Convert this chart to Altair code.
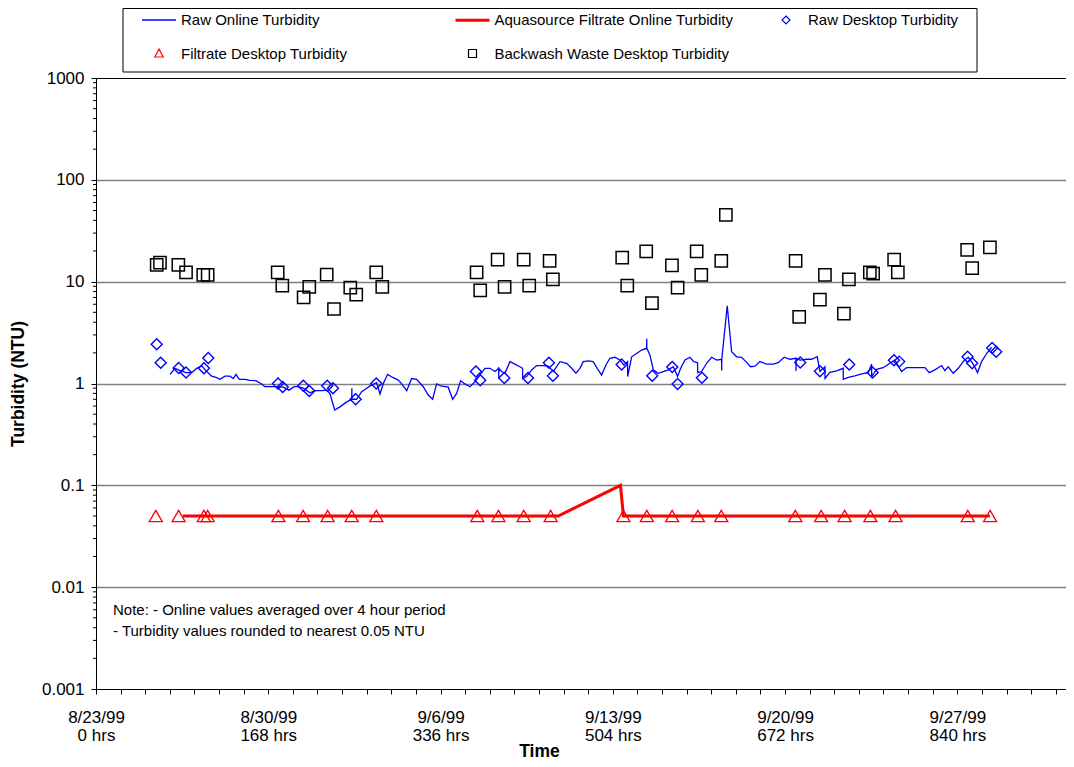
import altair as alt
import pandas as pd

# ---------------- data (hours since 8/23/99 00:00, turbidity NTU) ----------------
raw_online_hours = [72.2, 77.0, 81.9, 87.8, 93.3, 98.2, 103.1, 108.0, 112.8, 117.7, 120.9, 125.8, 130.7,
                    133.9, 136.5, 139.7, 145.3, 150.2, 156.0, 161.6, 164.8, 169.7, 176.2, 182.6, 188.2,
                    193.4, 197.3, 202.1, 208.7, 213.6, 220.1, 225.0, 228.2, 232.8, 237.9, 244.5, 249.4,
                    249.5, 249.6, 254.2, 259.1, 264.0, 268.8, 273.7, 277.0, 280.2, 284.4, 289.9, 294.8,
                    298.1, 303.0, 307.8, 312.7, 319.2, 324.0, 328.3, 332.2, 337.1, 343.5, 347.8, 351.7,
                    355.6, 359.8, 364.7, 369.6, 374.4, 379.3, 384.2, 389.1, 392.7, 392.8, 392.9, 395.6,
                    398.8, 403.7, 408.6, 413.4, 416.0, 416.1, 420.0, 424.9, 429.7, 436.2, 441.1, 446.0,
                    452.5, 459.0, 463.9, 468.1, 472.0, 475.2, 480.1, 484.9, 488.8, 493.1, 497.3, 501.2,
                    506.1, 511.0, 514.9, 518.4, 518.5, 522.4, 527.3, 532.1, 537.0, 537.1, 537.2, 540.2,
                    543.5, 548.3, 553.2, 558.1, 563.0, 567.2, 570.2, 574.4, 579.2, 583.1, 586.7, 586.8,
                    590.6, 595.5, 600.4, 605.3, 610.1, 610.2, 610.3, 615.6, 619.9, 624.8, 629.6, 633.8,
                    638.4, 642.6, 647.5, 654.0, 660.5, 665.3, 671.2, 676.7, 682.6, 682.7, 682.8, 686.5,
                    693.0, 697.9, 703.4, 706.0, 710.9, 711.0, 715.7, 722.3, 728.7, 728.8, 733.6, 740.1,
                    746.7, 753.1, 756.4, 756.5, 761.3, 767.7, 774.2, 779.1, 785.6, 790.5, 797.0, 803.5,
                    808.4, 812.6, 818.1, 824.7, 827.9, 831.1, 836.0, 840.9, 845.7, 850.6, 855.5, 859.8,
                    863.7, 868.6, 873.4]
raw_online_ntu = [1.23, 1.41, 1.34, 1.28, 1.28, 1.41, 1.49, 1.31, 1.18, 1.14, 1.10, 1.18, 1.18,
                  1.12, 1.23, 1.10, 1.10, 1.075, 1.065, 0.99, 0.93, 0.93, 0.93, 0.92, 0.86,
                  0.93, 0.93, 0.90, 0.81, 0.85, 0.85, 0.86, 0.79, 0.55, 0.59, 0.66, 0.70,
                  0.90, 0.70, 0.70, 0.83, 0.90, 0.97, 1.02, 0.79, 1.00, 1.23, 1.14, 1.08,
                  0.99, 0.85, 1.12, 1.10, 0.93, 0.77, 0.70, 0.99, 0.94, 0.92, 0.70, 0.80,
                  1.065, 0.99, 0.93, 1.04, 1.21, 1.41, 1.41, 1.31, 1.41, 1.12, 1.41, 1.31,
                  1.26, 1.64, 1.55, 1.46, 1.41, 1.12, 1.17, 1.36, 1.50, 1.50, 1.48, 1.31,
                  1.64, 1.58, 1.41, 1.26, 1.41, 1.64, 1.67, 1.64, 1.41, 1.21, 1.52, 1.77,
                  1.81, 1.70, 1.52, 1.64, 1.17, 1.83, 1.97, 2.13, 2.22, 2.75, 2.22, 1.91,
                  1.36, 1.26, 1.31, 1.36, 1.46, 1.17, 1.41, 1.70, 1.81, 1.64, 1.60, 1.28,
                  1.31, 1.58, 1.81, 1.70, 1.73, 1.34, 1.73, 5.8, 2.05, 1.83, 1.81, 1.64,
                  1.46, 1.48, 1.64, 1.55, 1.55, 1.60, 1.81, 1.73, 1.77, 1.33, 1.77, 1.70,
                  1.73, 1.73, 1.83, 1.31, 1.46, 1.12, 1.29, 1.33, 1.41, 1.10, 1.15, 1.19,
                  1.24, 1.28, 1.55, 1.17, 1.38, 1.43, 1.58, 1.70, 1.31, 1.43, 1.43, 1.43,
                  1.43, 1.28, 1.36, 1.50, 1.34, 1.46, 1.26, 1.41, 1.64, 1.81, 1.55, 1.28,
                  1.64, 1.97, 2.27]

filtrate_online_hours = [84.6, 450.8, 511.5, 514.4, 871.8]
filtrate_online_ntu = [0.05, 0.05, 0.1, 0.05, 0.05]

raw_desktop_hours = [59.2, 63.1, 80.6, 87.8, 105.3, 109.5, 177.5, 182.1, 202.2, 208.0, 225.5, 231.1,
                     253.2, 273.3, 370.5, 374.7, 398.2, 421.3, 441.7, 445.6, 512.6, 542.5, 562.0,
                     567.2, 590.9, 686.8, 706.0, 734.6, 757.4, 778.2, 783.3, 850.0, 854.5, 874.0, 877.9]
raw_desktop_ntu = [2.43, 1.60, 1.42, 1.28, 1.41, 1.78, 1.00, 0.924, 0.951, 0.844, 0.951, 0.897,
                   0.70, 1.00, 1.31, 1.075, 1.13, 1.13, 1.60, 1.19, 1.54, 1.19, 1.45,
                   0.99, 1.14, 1.61, 1.32, 1.54, 1.28, 1.69, 1.64, 1.83, 1.58, 2.23, 2.05]

filtrate_desktop_hours = [58.3, 80.6, 105.2, 108.9, 177.9, 202.0, 225.9, 249.4, 273.4, 371.9, 392.5,
                          417.1, 443.4, 514.4, 537.2, 561.9, 587.0, 609.8, 682.0, 707.2, 730.1, 755.2,
                          779.8, 850.2, 872.0]
filtrate_desktop_ntu = [0.05, 0.05, 0.05, 0.05, 0.05, 0.05, 0.05, 0.05, 0.05, 0.05, 0.05,
                        0.05, 0.05, 0.05, 0.05, 0.05, 0.05, 0.05, 0.05, 0.05, 0.05, 0.05,
                        0.05, 0.05, 0.05]

backwash_hours = [59.2, 62.4, 80.3, 87.8, 104.6, 108.9, 177.2, 181.7, 208.0, 202.5, 225.0, 232.1,
                  248.0, 253.8, 273.3, 279.2, 371.2, 374.7, 391.7, 398.5, 417.1, 422.5, 442.4, 445.6,
                  513.2, 518.1, 536.6, 542.2, 561.7, 567.2, 585.8, 590.3, 609.8, 614.3, 682.3, 710.9,
                  706.0, 685.8, 734.3, 729.4, 754.7, 757.9, 778.4, 782.0, 849.6, 854.5, 871.8]
backwash_ntu = [14.58, 15.36, 14.58, 12.36, 11.63, 11.63, 12.36, 9.13, 8.87, 7.02, 11.71, 5.39,
                8.73, 7.45, 12.36, 8.87, 12.36, 8.23, 16.43, 8.87, 16.43, 9.13, 15.96, 10.55,
                17.2, 9.13, 19.87, 6.17, 14.48, 8.73, 19.87, 11.63, 15.96, 45.2, 15.96, 11.63,
                6.65, 4.5, 10.55, 4.85, 12.36, 11.97, 16.43, 12.36, 20.47, 13.62, 21.76]

series_names = ["Raw  Online Turbidity", "Aquasource Filtrate Online Turbidity", "Raw  Desktop Turbidity",
                "Filtrate Desktop Turbidity", "Backwash Waste Desktop Turbidity"]
series_colors = ["#0000ff", "#ff0000", "#0000ff", "#ff0000", "#000000"]

x_label_hours = [0, 168, 336, 504, 672, 840]
x_label_dates = ["8/23/99", "8/30/99", "9/6/99", "9/13/99", "9/20/99", "9/27/99"]
x_label_hrs = ["0 hrs", "168 hrs", "336 hrs", "504 hrs", "672 hrs", "840 hrs"]
x_tick_hours = list(range(0, 946, 24))

y_major = [0.001, 0.01, 0.1, 1, 10, 100, 1000]
y_minor_mantissas = [2, 3, 4, 5, 6, 7, 8, 9]
y_minor = [m * d for d in y_major[:-1] for m in y_minor_mantissas]

note_lines = ["Note: - Online values averaged over 4 hour period",
              "- Turbidity values rounded to nearest 0.05 NTU"]

# ---------------- styling ----------------
FONT = "Liberation Sans"
W, H = 970, 611

label_expr = "".join(
    f"datum.value == {h} ? ['{d}', '{t}'] : " for h, d, t in zip(x_label_hours, x_label_dates, x_label_hrs)
) + "''"

x_scale = alt.Scale(domain=[0, 946], nice=False, zero=False)
y_scale = alt.Scale(type="log", domain=[0.001, 1000], nice=False)

x_axis = alt.Axis(values=x_tick_hours, labelExpr=label_expr, labelOverlap=False, labelFlush=False,
                  labelFont=FONT, labelFontSize=17, labelColor="black", labelPadding=15,
                  labelLineHeight=18, labelBaseline="top", labelAlign="center",
                  tickSize=5, tickColor="black", domainColor="black", grid=False,
                  title="Time", titleFont=FONT, titleFontSize=17.5, titleFontWeight="bold",
                  titleColor="black", titleX=443, titleY=67, titleBaseline="alphabetic",
                  titleAlign="center")
y_axis = alt.Axis(values=y_major, format="~g", labelFont=FONT, labelFontSize=17, labelColor="black",
                  labelPadding=7, tickSize=5, tickColor="black", domainColor="black",
                  grid=True,
                  gridColor={"condition": {"test": "datum.value <= 0.001 || datum.value >= 1000",
                                           "value": "black"}, "value": "#808080"},
                  gridWidth={"condition": {"test": "datum.value <= 0.001 || datum.value >= 1000",
                                           "value": 1}, "value": 1.5},
                  title="Turbidity (NTU)", titleFont=FONT, titleFontSize=17.5, titleFontWeight="bold",
                  titleColor="black", titlePadding=13.5)

X = alt.X("h:Q", scale=x_scale, axis=x_axis, title="Time")
Y = alt.Y("v:Q", scale=y_scale, axis=y_axis, title="Turbidity (NTU)")

# ---------------- layers ----------------
raw_online_df = pd.DataFrame({"h": raw_online_hours, "v": raw_online_ntu,
                              "i": list(range(len(raw_online_hours)))})
filt_online_df = pd.DataFrame({"h": filtrate_online_hours, "v": filtrate_online_ntu,
                               "i": list(range(len(filtrate_online_hours)))})
raw_desk_df = pd.DataFrame({"h": raw_desktop_hours, "v": raw_desktop_ntu})
filt_desk_df = pd.DataFrame({"h": filtrate_desktop_hours, "v": filtrate_desktop_ntu})
back_df = pd.DataFrame({"h": backwash_hours, "v": backwash_ntu})
minor_df = pd.DataFrame({"v": y_minor})

minor_ticks = alt.Chart(minor_df).mark_rule(color="black", strokeWidth=1).encode(
    y=Y, x=alt.value(-3), x2=alt.value(0))

raw_line = alt.Chart(raw_online_df).mark_line(color="#0000ff", strokeWidth=1.3).encode(
    x=X, y=Y, order=alt.Order("i:Q"))
filt_line = alt.Chart(filt_online_df).mark_line(color="#ff0000", strokeWidth=3).encode(
    x=X, y=Y, order=alt.Order("i:Q"))
raw_pts = alt.Chart(raw_desk_df).mark_point(shape="diamond", size=121, color="#0000ff",
                                            filled=False, strokeWidth=1.4, opacity=1).encode(x=X, y=Y)
filt_pts = alt.Chart(filt_desk_df).mark_point(shape="triangle-up", size=170, color="#ff0000",
                                              filled=False, strokeWidth=1.3, opacity=1).encode(x=X, y=Y)
back_pts = alt.Chart(back_df).mark_point(shape="square", size=150, color="black",
                                         filled=False, strokeWidth=1.5, opacity=1).encode(x=X, y=Y)

# legend frame (decoration, above plot area)
frame_df = pd.DataFrame({"k": [0]})
legend_frame = alt.Chart(frame_df).mark_rect(fill="white", stroke="black", strokeWidth=1).encode(
    x=alt.value(27), x2=alt.value(881), y=alt.value(-69.5), y2=alt.value(-6))

# legend (hidden points, legend only); all legend symbols share one nominal size
legend_df = pd.DataFrame({"series": series_names, "h": [None] * 5, "v": [None] * 5})
line_path = "M-1.7,0L1.7,0"
diamond_path = "M0,-0.4L0.4,0L0,0.4L-0.4,0Z"
triangle_path = "M0,-0.45L0.42,0.35L-0.42,0.35Z"
square_path = "M-0.4,-0.4L0.4,-0.4L0.4,0.4L-0.4,0.4Z"
leg = alt.Legend(title=None, orient="none", legendX=51.5, legendY=-69.5, columns=3, direction="horizontal",
                 gridAlign="all", columnPadding=28.5, rowPadding=14, padding=0, symbolOffset=0,
                 labelOffset=10.5, labelFont=FONT, labelFontSize=15, labelColor="black", labelLimit=500)
legend_layer = alt.Chart(legend_df).mark_point(filled=False, opacity=1).encode(
    x=X, y=Y,
    color=alt.Color("series:N", scale=alt.Scale(domain=series_names, range=series_colors), legend=leg),
    shape=alt.Shape("series:N", scale=alt.Scale(domain=series_names,
                                                range=[line_path, line_path, diamond_path,
                                                       triangle_path, square_path]),
                    legend=leg),
    size=alt.Size("series:N", scale=alt.Scale(type="ordinal", domain=series_names,
                                              range=[400, 400, 400, 400, 400]), legend=leg),
    strokeWidth=alt.StrokeWidth("series:N", scale=alt.Scale(type="ordinal", domain=series_names,
                                                            range=[1.5, 3, 1.2, 1.2, 1.2]), legend=leg),
)

note_df = pd.DataFrame({"t": ["\n".join(note_lines)]})
note = alt.Chart(note_df).mark_text(align="left", baseline="middle", lineBreak="\n", lineHeight=21,
                                    font=FONT, fontSize=15, color="black").encode(
    x=alt.value(17), y=alt.value(532), text="t:N")

chart = alt.layer(legend_frame, minor_ticks, raw_line, filt_line, raw_pts, filt_pts, back_pts,
                  legend_layer, note).properties(
    width=W, height=H,
    autosize=alt.AutoSizeParams(type="none"),
    padding={"left": 88, "top": 70, "right": 0, "bottom": 70},
    background="white",
).configure_view(stroke=None)

chart.save("out.html", embed_options={"renderer": "svg", "actions": False})
